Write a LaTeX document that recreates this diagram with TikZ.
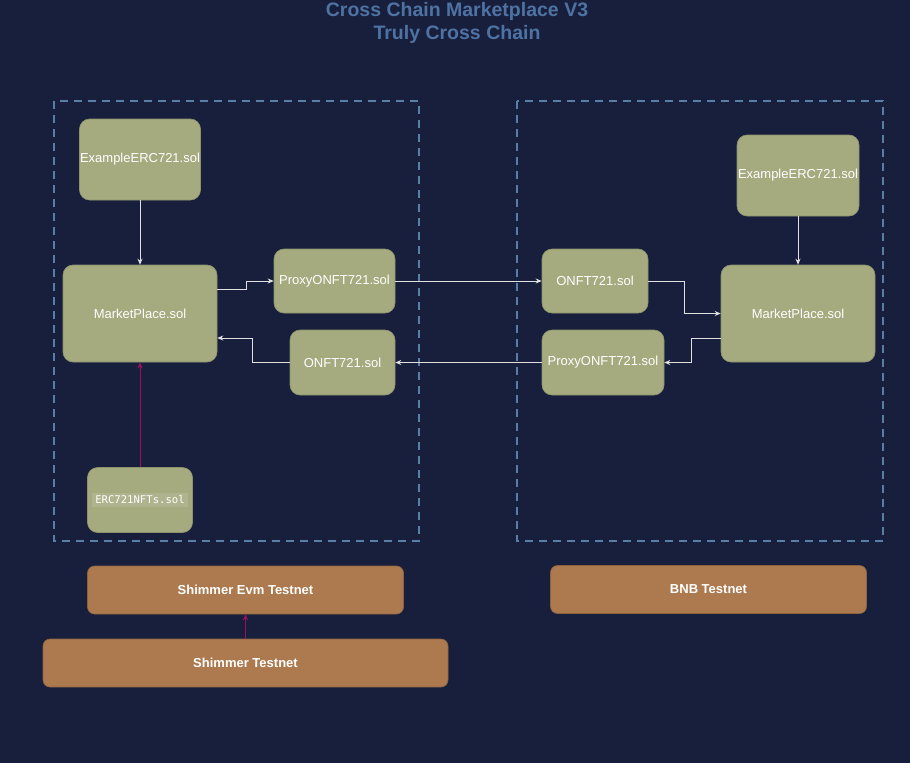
\documentclass[tikz,border=0pt]{standalone}
\usepackage{fontspec}
\setmainfont{Liberation Sans}
\newfontfamily\monof{DejaVu Sans Mono}
\usetikzlibrary{arrows.meta}
\definecolor{bg}{RGB}{24,31,60}
\definecolor{titlec}{RGB}{78,115,163}
\definecolor{dashc}{RGB}{90,127,166}
\definecolor{olive}{RGB}{165,171,127}
\definecolor{oliveb}{RGB}{140,146,108}
\definecolor{orangec}{RGB}{173,122,79}
\definecolor{orangeb}{RGB}{140,98,62}
\definecolor{linec}{RGB}{225,225,225}
\definecolor{crim}{RGB}{160,16,90}
\definecolor{codebg}{RGB}{176,180,142}
\tikzset{
  gbox/.style={draw=oliveb, line width=0.6pt, fill=olive, rounded corners=10pt, inner sep=0pt, text=white, font=\fontsize{13}{15}\selectfont},
  obox/.style={draw=orangeb, line width=0.6pt, fill=orangec, rounded corners=7pt, inner sep=0pt, text=white, font=\bfseries\fontsize{13}{15}\selectfont},
  region/.style={draw=dashc, line width=1.8pt, dash pattern=on 8pt off 6pt},
  arr/.style={draw=linec, line width=0.9pt, -{Stealth[length=6pt,width=5pt]}},
  carr/.style={draw=crim, line width=1pt, -{Stealth[length=6pt,width=5pt]}},
}
\begin{document}
\begin{tikzpicture}[x=1pt,y=-1pt]
\fill[bg] (0,0) rectangle (910,763);
\useasboundingbox (0,0) rectangle (910,763);
\node[text=titlec, font=\bfseries\fontsize{19.5}{23}\selectfont, align=center] (title) at (457,22.5) {Cross Chain Marketplace V3\\Truly Cross Chain};
% regions
\draw[region] (54,101) rectangle (419,541);
\draw[region] (517,101) rectangle (883,541);
% left nodes
\node[gbox, minimum width=121, minimum height=81] (ex1) at (140,159.5) {ExampleERC721.sol};
\node[gbox, minimum width=154, minimum height=97] (ml) at (140,313.5) {MarketPlace.sol};
\node[gbox, minimum width=121, minimum height=64] (px1) at (334.5,281) {ProxyONFT721.sol};
\node[gbox, minimum width=105, minimum height=65] (on1) at (342.5,362.5) {ONFT721.sol};
\node[gbox, minimum width=105, minimum height=65] (erc) at (140,500) {\colorbox{codebg}{\monof\fontsize{10.6}{12}\selectfont ERC721NFTs.sol}};
% right nodes
\node[gbox, minimum width=122, minimum height=81] (ex2) at (798,175.5) {ExampleERC721.sol};
\node[gbox, minimum width=154, minimum height=97] (mr) at (798,313.5) {MarketPlace.sol};
\node[gbox, minimum width=106, minimum height=64] (on2) at (595,281) {ONFT721.sol};
\node[gbox, minimum width=122, minimum height=65] (px2) at (603,362.5) {ProxyONFT721.sol};
% network boxes
\node[obox, minimum width=316, minimum height=48] (sev) at (245.5,590) {Shimmer Evm Testnet};
\node[obox, minimum width=405, minimum height=48] (st) at (245.5,663) {Shimmer Testnet};
\node[obox, minimum width=316, minimum height=48] (bnb) at (708.5,589.5) {BNB Testnet};
% connectors
\draw[arr] (ex1.south) -- (ml.north);
\draw[arr] ([yshift=24.5pt]ml.east) -- ++(29,0) |- (px1.west);
\draw[arr] (px1.east) -- (on2.west);
\draw[arr] (on2.east) -- ++(36,0) |- (mr.west);
\draw[arr] (ex2.south) -- (mr.north);
\draw[arr] ([yshift=-24.5pt]mr.west) -- ++(-29,0) |- (px2.east);
\draw[arr] (px2.west) -- (on1.east);
\draw[arr] (on1.west) -- ++(-37,0) |- ([yshift=-24.5pt]ml.east);
\draw[carr] (erc.north) -- (ml.south);
\draw[carr] (st.north) -- (sev.south);
\end{tikzpicture}
\end{document}
